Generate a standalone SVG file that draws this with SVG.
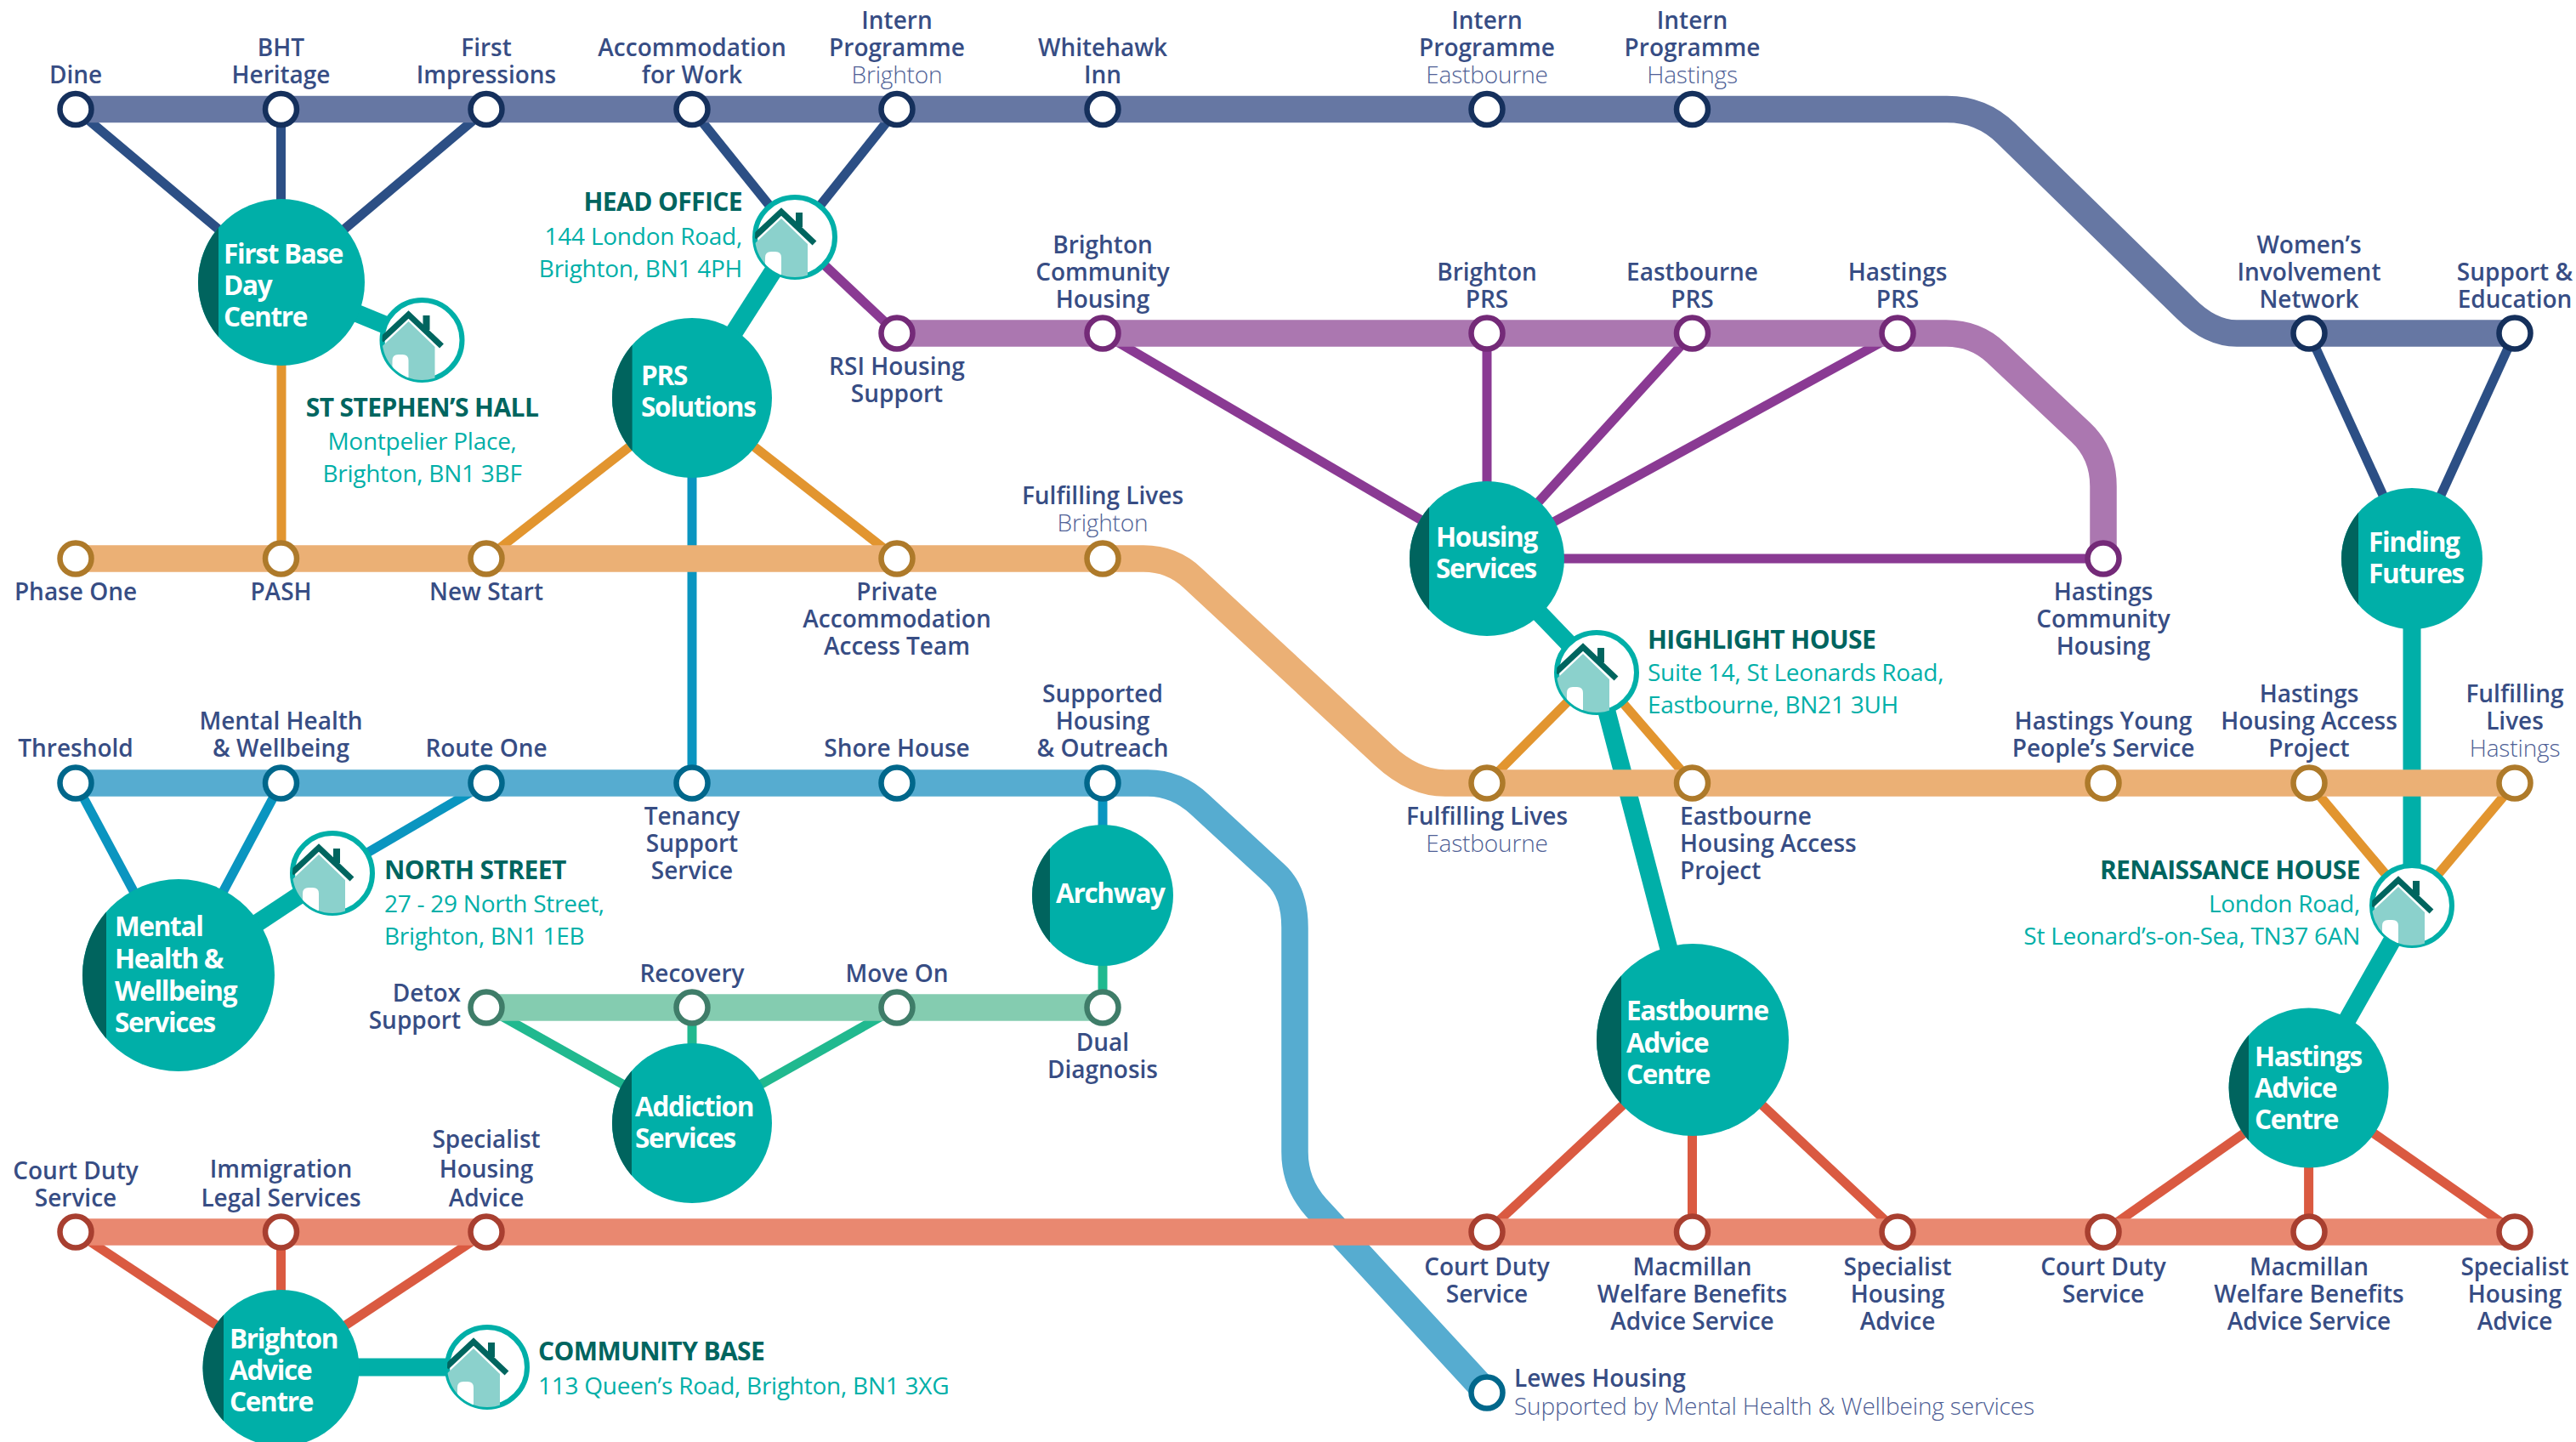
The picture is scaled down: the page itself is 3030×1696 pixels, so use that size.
<svg xmlns="http://www.w3.org/2000/svg" width="3030" height="1696" viewBox="0 0 3030 1696">
<style>
.bg{fill:#fff}
.ln{fill:none;stroke-width:31.5;stroke-linejoin:round}
.lk{fill:none;stroke-width:11}
.tk{fill:none;stroke:#00afa8;stroke-width:21}
.st{fill:#fff;stroke-width:6.5}
.sn{stroke:#15305c}.sp{stroke:#742a78}.so{stroke:#ae7a2a}.sb{stroke:#00678b}.sg{stroke:#3f7d69}.sr{stroke:#a83f30}
.hub{fill:#00afa8}.seg{fill:#00645e}
.ring{fill:#fff;stroke:#00afa8;stroke-width:6}
text{font-family:"Open Sans","Liberation Sans",sans-serif}
.l{font-size:28px;font-weight:600;fill:#374d84;text-anchor:middle}
.m{font-size:28px;font-weight:300;fill:#4f6196;text-anchor:middle;letter-spacing:-.15px}
.h{font-size:31.5px;font-weight:700;fill:#fff;letter-spacing:-1.3px}
.t{font-size:30px;font-weight:700;fill:#00655f;letter-spacing:-.6px}
.a{font-size:28px;font-weight:400;fill:#00afa8;letter-spacing:-.25px}
</style>
<defs>
<clipPath id="hc"><circle r="47"/></clipPath>
<g id="house">
<circle class="ring" r="47"/>
<g clip-path="url(#hc)">
<path d="M-50,10 L-16,-22 L15,8 V50 H-50Z" fill="#8bd1cc"/>
<path d="M-35,43 V24 Q-35,17 -28,17 H-23 Q-16,17 -16,24 V50 H-35Z" fill="#fff"/>
<path d="M1,-29 H9 V-12 H1Z" fill="#00655f"/>
<path d="M-48,0 L-16,-30 L23,7" fill="none" stroke="#00655f" stroke-width="7"/>
</g>
</g>
</defs>
<rect class="bg" width="3030" height="1696"/>
<g id="connectors">
<g class="lk" stroke="#2c4f85">
<path d="M89,128.5 L331,332"/><path d="M330.5,128.5 V332"/><path d="M572,128.5 L331,332"/>
<path d="M814,128.5 L935,279"/><path d="M1055,128.5 L935,279"/>
<path d="M2716,392 L2837,657"/><path d="M2958,392 L2837,657"/>
</g>
<g class="lk" stroke="#8a3a93">
<path d="M935,279 L1055,392"/><path d="M1297,392 L1749,657"/><path d="M1749,392 V657"/>
<path d="M1990.5,392 L1749,657"/><path d="M2232,392 L1749,657"/><path d="M1749,657 H2474"/>
</g>
<g class="lk" stroke="#e2952f">
<path d="M331,332 V657"/><path d="M814,468 L572,657"/><path d="M814,468 L1055,657"/>
<path d="M1878,791 L1749,921"/><path d="M1878,791 L1990.5,921"/>
<path d="M2837,1065 L2716,921"/><path d="M2837,1065 L2958,921"/>
</g>
<g class="lk" stroke="#0a95c0">
<path d="M814,468 V921"/><path d="M89,921 L210,1147"/><path d="M330.5,921 L210,1147"/><path d="M572,921 L391,1027"/><path d="M1297,921 V1053"/>
</g>
<g class="lk" stroke="#20b98f">
<path d="M572,1185 L814,1321"/><path d="M814,1185 V1321"/><path d="M1055,1185 L814,1321"/><path d="M1297,1053 V1185"/>
</g>
<g class="lk" stroke="#da5a41">
<path d="M89,1449 L330.5,1609"/><path d="M330.5,1449 V1609"/><path d="M572,1449 L330.5,1609"/>
<path d="M1749,1449 L1991,1223"/><path d="M1990.5,1449 V1223"/><path d="M2232,1449 L1991,1223"/>
<path d="M2474,1449 L2715.6,1279.5"/><path d="M2715.6,1449 V1279.5"/><path d="M2958,1449 L2715.6,1279.5"/>
</g>
<g class="tk">
<path d="M331,332 L496.5,400"/><path d="M935,279 L814,468"/><path d="M1749,657 L1878,791 L1991,1223"/>
<path d="M2837,657 V1065 L2715.6,1279.5"/><path d="M210,1147 L391,1027"/><path d="M330.5,1608 H573"/>
</g>
<path class="ln" stroke="#6677a3" d="M89,128.5 H2290 Q2331,128.5 2360,157 L2571,363 Q2600,392 2631,392 H2958"/>
<path class="ln" stroke="#ab77b0" d="M1055,392 H2289 Q2324,392 2348,415 L2447,508 Q2474,533 2474,572 V657"/>
<path class="ln" stroke="#ebb075" d="M89,657 H1345 Q1379,657 1403,680 L1628,888.6 Q1663,921 1700,921 H2958"/>
<path class="ln" stroke="#56acd0" d="M89,921 H1350 Q1384,921 1411,946 L1500,1028 Q1523,1049 1523,1091 V1355 Q1523,1392 1548,1420 L1749,1638"/>
<path class="ln" stroke="#84ccb0" d="M572,1185 H1297"/>
<path class="ln" stroke="#e98870" d="M89,1449 H2958"/>
</g>

<g id="hub-first-base"><circle class="hub" cx="331" cy="332" r="98"/><path class="seg" d="M257,267.8 A98,98 0 0 0 257,396.2Z"/><text class="h" x="263" y="310">First Base<tspan x="263" dy="37">Day</tspan><tspan x="263" dy="37">Centre</tspan></text></g>
<g id="hub-prs"><circle class="hub" cx="814" cy="468" r="94"/><path class="seg" d="M743.6,405.7 A94,94 0 0 0 743.6,530.3Z"/><text class="h" x="754" y="453">PRS<tspan x="754" dy="37">Solutions</tspan></text></g>
<g id="hub-housing"><circle class="hub" cx="1749" cy="657" r="91"/><path class="seg" d="M1681,596.5 A91,91 0 0 0 1681,717.5Z"/><text class="h" x="1689" y="643">Housing<tspan x="1689" dy="37">Services</tspan></text></g>
<g id="hub-finding"><circle class="hub" cx="2837" cy="657" r="83"/><path class="seg" d="M2774,603 A83,83 0 0 0 2774,711Z"/><text class="h" x="2786" y="649">Finding<tspan x="2786" dy="37">Futures</tspan></text></g>
<g id="hub-archway"><circle class="hub" cx="1297" cy="1053" r="83"/><path class="seg" d="M1235,997.8 A83,83 0 0 0 1235,1108.2Z"/><text class="h" x="1242" y="1062">Archway</text></g>
<g id="hub-addiction"><circle class="hub" cx="814" cy="1321" r="94"/><path class="seg" d="M743,1259.4 A94,94 0 0 0 743,1382.6Z"/><text class="h" x="747" y="1313">Addiction<tspan x="747" dy="37">Services</tspan></text></g>
<g id="hub-mental"><circle class="hub" cx="210" cy="1147" r="113"/><path class="seg" d="M125,1072.5 A113,113 0 0 0 125,1221.5Z"/><text class="h" x="135" y="1101">Mental<tspan x="135" dy="38">Health &amp;</tspan><tspan x="135" dy="37.5">Wellbeing</tspan><tspan x="135" dy="37.5">Services</tspan></text></g>
<g id="hub-brighton"><circle class="hub" cx="330.5" cy="1609" r="92"/><path class="seg" d="M263,1546.5 A92,92 0 0 0 263,1671.5Z"/><text class="h" x="270" y="1586">Brighton<tspan x="270" dy="37">Advice</tspan><tspan x="270" dy="37">Centre</tspan></text></g>
<g id="hub-eastbourne"><circle class="hub" cx="1991" cy="1223" r="113"/><path class="seg" d="M1907,1147.4 A113,113 0 0 0 1907,1298.6Z"/><text class="h" x="1913" y="1200">Eastbourne<tspan x="1913" dy="37.5">Advice</tspan><tspan x="1913" dy="37.5">Centre</tspan></text></g>
<g id="hub-hastings"><circle class="hub" cx="2715.6" cy="1279.5" r="94"/><path class="seg" d="M2645,1217.5 A94,94 0 0 0 2645,1341.5Z"/><text class="h" x="2652" y="1254">Hastings<tspan x="2652" dy="37">Advice</tspan><tspan x="2652" dy="37">Centre</tspan></text></g>

<g id="site-head-office"><use href="#house" x="935" y="279"/><text class="t" text-anchor="end" x="873" y="248">HEAD OFFICE</text><text class="a" text-anchor="end" x="873" y="288">144 London Road,</text><text class="a" text-anchor="end" x="873" y="326">Brighton, BN1 4PH</text></g>
<g id="site-st-stephens"><use href="#house" x="496.5" y="400"/><text class="t" text-anchor="middle" x="496.5" y="490">ST STEPHEN’S HALL</text><text class="a" text-anchor="middle" x="496.5" y="529">Montpelier Place,</text><text class="a" text-anchor="middle" x="496.5" y="567">Brighton, BN1 3BF</text></g>
<g id="site-north-street"><use href="#house" x="391" y="1027"/><text class="t" x="452" y="1034">NORTH STREET</text><text class="a" x="452" y="1073">27 - 29 North Street,</text><text class="a" x="452" y="1111">Brighton, BN1 1EB</text></g>
<g id="site-highlight"><use href="#house" x="1878" y="791"/><text class="t" x="1938" y="763">HIGHLIGHT HOUSE</text><text class="a" x="1938" y="801">Suite 14, St Leonards Road,</text><text class="a" x="1938" y="839">Eastbourne, BN21 3UH</text></g>
<g id="site-renaissance"><use href="#house" x="2837" y="1065"/><text class="t" text-anchor="end" x="2776" y="1034">RENAISSANCE HOUSE</text><text class="a" text-anchor="end" x="2776" y="1073">London Road,</text><text class="a" text-anchor="end" x="2776" y="1111">St Leonard’s-on-Sea, TN37 6AN</text></g>
<g id="site-community"><use href="#house" x="573" y="1608"/><text class="t" x="633" y="1600">COMMUNITY BASE</text><text class="a" x="633" y="1640">113 Queen’s Road, Brighton, BN1 3XG</text></g>

<g id="stations-top">
<g id="st-dine"><circle class="st sn" cx="89" cy="128.5" r="18.5"/><text class="l" x="89" y="98">Dine</text></g>
<g id="st-bht"><circle class="st sn" cx="330.5" cy="128.5" r="18.5"/><text class="l" x="330.5" y="66">BHT</text><text class="l" x="330.5" y="98">Heritage</text></g>
<g id="st-first"><circle class="st sn" cx="572" cy="128.5" r="18.5"/><text class="l" x="572" y="66">First</text><text class="l" x="572" y="98">Impressions</text></g>
<g id="st-acc"><circle class="st sn" cx="814" cy="128.5" r="18.5"/><text class="l" x="814" y="66">Accommodation</text><text class="l" x="814" y="98">for Work</text></g>
<g id="st-intern-b"><circle class="st sn" cx="1055" cy="128.5" r="18.5"/><text class="l" x="1055" y="34">Intern</text><text class="l" x="1055" y="66">Programme</text><text class="m" x="1055" y="98">Brighton</text></g>
<g id="st-whitehawk"><circle class="st sn" cx="1297" cy="128.5" r="18.5"/><text class="l" x="1297" y="66">Whitehawk</text><text class="l" x="1297" y="98">Inn</text></g>
<g id="st-intern-e"><circle class="st sn" cx="1749" cy="128.5" r="18.5"/><text class="l" x="1749" y="34">Intern</text><text class="l" x="1749" y="66">Programme</text><text class="m" x="1749" y="98">Eastbourne</text></g>
<g id="st-intern-h"><circle class="st sn" cx="1990.5" cy="128.5" r="18.5"/><text class="l" x="1990.5" y="34">Intern</text><text class="l" x="1990.5" y="66">Programme</text><text class="m" x="1990.5" y="98">Hastings</text></g>
<g id="st-womens"><circle class="st sn" cx="2716" cy="392" r="18.5"/><text class="l" x="2716" y="298">Women’s</text><text class="l" x="2716" y="330">Involvement</text><text class="l" x="2716" y="362">Network</text></g>
<g id="st-support"><circle class="st sn" cx="2958" cy="392" r="18.5"/><text class="l" x="2958" y="330">Support &amp;</text><text class="l" x="2958" y="362">Education</text></g>
</g>
<g id="stations-purple">
<g id="st-rsi"><circle class="st sp" cx="1055" cy="392" r="18.5"/><text class="l" x="1055" y="441">RSI Housing</text><text class="l" x="1055" y="473">Support</text></g>
<g id="st-bch"><circle class="st sp" cx="1297" cy="392" r="18.5"/><text class="l" x="1297" y="298">Brighton</text><text class="l" x="1297" y="330">Community</text><text class="l" x="1297" y="362">Housing</text></g>
<g id="st-bprs"><circle class="st sp" cx="1749" cy="392" r="18.5"/><text class="l" x="1749" y="330">Brighton</text><text class="l" x="1749" y="362">PRS</text></g>
<g id="st-eprs"><circle class="st sp" cx="1990.5" cy="392" r="18.5"/><text class="l" x="1990.5" y="330">Eastbourne</text><text class="l" x="1990.5" y="362">PRS</text></g>
<g id="st-hprs"><circle class="st sp" cx="2232" cy="392" r="18.5"/><text class="l" x="2232" y="330">Hastings</text><text class="l" x="2232" y="362">PRS</text></g>
<g id="st-hch"><circle class="st sp" cx="2474" cy="657" r="18.5"/><text class="l" x="2474" y="706">Hastings</text><text class="l" x="2474" y="738">Community</text><text class="l" x="2474" y="770">Housing</text></g>
</g>
<g id="stations-orange">
<g id="st-phase"><circle class="st so" cx="89" cy="657" r="18.5"/><text class="l" x="89" y="706">Phase One</text></g>
<g id="st-pash"><circle class="st so" cx="330.5" cy="657" r="18.5"/><text class="l" x="330.5" y="706">PASH</text></g>
<g id="st-newstart"><circle class="st so" cx="572" cy="657" r="18.5"/><text class="l" x="572" y="706">New Start</text></g>
<g id="st-private"><circle class="st so" cx="1055" cy="657" r="18.5"/><text class="l" x="1055" y="706">Private</text><text class="l" x="1055" y="738">Accommodation</text><text class="l" x="1055" y="770">Access Team</text></g>
<g id="st-flb"><circle class="st so" cx="1297" cy="657" r="18.5"/><text class="l" x="1297" y="593">Fulfilling Lives</text><text class="m" x="1297" y="625">Brighton</text></g>
<g id="st-fle"><circle class="st so" cx="1749" cy="921" r="18.5"/><text class="l" x="1749" y="970">Fulfilling Lives</text><text class="m" x="1749" y="1002">Eastbourne</text></g>
<g id="st-ehap"><circle class="st so" cx="1990.5" cy="921" r="18.5"/><text class="l" style="text-anchor:start" x="1976" y="970">Eastbourne</text><text class="l" style="text-anchor:start" x="1976" y="1002">Housing Access</text><text class="l" style="text-anchor:start" x="1976" y="1034">Project</text></g>
<g id="st-hyps"><circle class="st so" cx="2474" cy="921" r="18.5"/><text class="l" x="2474" y="858">Hastings Young</text><text class="l" x="2474" y="890">People’s Service</text></g>
<g id="st-hhap"><circle class="st so" cx="2716" cy="921" r="18.5"/><text class="l" x="2716" y="826">Hastings</text><text class="l" x="2716" y="858">Housing Access</text><text class="l" x="2716" y="890">Project</text></g>
<g id="st-flh"><circle class="st so" cx="2958" cy="921" r="18.5"/><text class="l" x="2958" y="826">Fulfilling</text><text class="l" x="2958" y="858">Lives</text><text class="m" x="2958" y="890">Hastings</text></g>
</g>
<g id="stations-blue">
<g id="st-threshold"><circle class="st sb" cx="89" cy="921" r="18.5"/><text class="l" x="89" y="890">Threshold</text></g>
<g id="st-mhw"><circle class="st sb" cx="330.5" cy="921" r="18.5"/><text class="l" x="330.5" y="858">Mental Health</text><text class="l" x="330.5" y="890">&amp; Wellbeing</text></g>
<g id="st-route"><circle class="st sb" cx="572" cy="921" r="18.5"/><text class="l" x="572" y="890">Route One</text></g>
<g id="st-tenancy"><circle class="st sb" cx="814" cy="921" r="18.5"/><text class="l" x="814" y="970">Tenancy</text><text class="l" x="814" y="1002">Support</text><text class="l" x="814" y="1034">Service</text></g>
<g id="st-shore"><circle class="st sb" cx="1055" cy="921" r="18.5"/><text class="l" x="1055" y="890">Shore House</text></g>
<g id="st-supported"><circle class="st sb" cx="1297" cy="921" r="18.5"/><text class="l" x="1297" y="826">Supported</text><text class="l" x="1297" y="858">Housing</text><text class="l" x="1297" y="890">&amp; Outreach</text></g>
<g id="st-lewes"><circle class="st sb" cx="1749" cy="1638" r="18.5"/><text class="l" style="text-anchor:start" x="1781" y="1631">Lewes Housing</text><text class="m" style="text-anchor:start" x="1781" y="1664">Supported by Mental Health &amp; Wellbeing services</text></g>
</g>
<g id="stations-green">
<g id="st-detox"><circle class="st sg" cx="572" cy="1185" r="18.5"/><text class="l" style="text-anchor:end" x="542" y="1178">Detox</text><text class="l" style="text-anchor:end" x="542" y="1210">Support</text></g>
<g id="st-recovery"><circle class="st sg" cx="814" cy="1185" r="18.5"/><text class="l" x="814" y="1155">Recovery</text></g>
<g id="st-moveon"><circle class="st sg" cx="1055" cy="1185" r="18.5"/><text class="l" x="1055" y="1155">Move On</text></g>
<g id="st-dual"><circle class="st sg" cx="1297" cy="1185" r="18.5"/><text class="l" x="1297" y="1236">Dual</text><text class="l" x="1297" y="1268">Diagnosis</text></g>
</g>
<g id="stations-red">
<g id="st-court-b"><circle class="st sr" cx="89" cy="1449" r="18.5"/><text class="l" x="89" y="1387">Court Duty</text><text class="l" x="89" y="1419">Service</text></g>
<g id="st-immigration"><circle class="st sr" cx="330.5" cy="1449" r="18.5"/><text class="l" x="330.5" y="1385">Immigration</text><text class="l" x="330.5" y="1419">Legal Services</text></g>
<g id="st-spec-b"><circle class="st sr" cx="572" cy="1449" r="18.5"/><text class="l" x="572" y="1350">Specialist</text><text class="l" x="572" y="1385">Housing</text><text class="l" x="572" y="1419">Advice</text></g>
<g id="st-court-e"><circle class="st sr" cx="1749" cy="1449" r="18.5"/><text class="l" x="1749" y="1500">Court Duty</text><text class="l" x="1749" y="1532">Service</text></g>
<g id="st-mac-e"><circle class="st sr" cx="1990.5" cy="1449" r="18.5"/><text class="l" x="1990.5" y="1500">Macmillan</text><text class="l" x="1990.5" y="1532">Welfare Benefits</text><text class="l" x="1990.5" y="1564">Advice Service</text></g>
<g id="st-spec-e"><circle class="st sr" cx="2232" cy="1449" r="18.5"/><text class="l" x="2232" y="1500">Specialist</text><text class="l" x="2232" y="1532">Housing</text><text class="l" x="2232" y="1564">Advice</text></g>
<g id="st-court-h"><circle class="st sr" cx="2474" cy="1449" r="18.5"/><text class="l" x="2474" y="1500">Court Duty</text><text class="l" x="2474" y="1532">Service</text></g>
<g id="st-mac-h"><circle class="st sr" cx="2716" cy="1449" r="18.5"/><text class="l" x="2716" y="1500">Macmillan</text><text class="l" x="2716" y="1532">Welfare Benefits</text><text class="l" x="2716" y="1564">Advice Service</text></g>
<g id="st-spec-h"><circle class="st sr" cx="2958" cy="1449" r="18.5"/><text class="l" x="2958" y="1500">Specialist</text><text class="l" x="2958" y="1532">Housing</text><text class="l" x="2958" y="1564">Advice</text></g>
</g>
</svg>
